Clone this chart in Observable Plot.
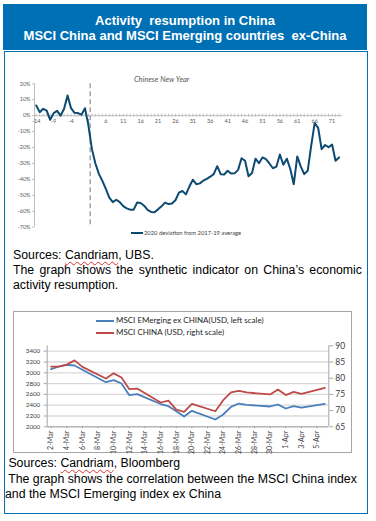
<!DOCTYPE html>
<html><head><meta charset="utf-8">
<script src="https://cdn.jsdelivr.net/npm/d3@7"></script>
<script src="https://cdn.jsdelivr.net/npm/@observablehq/plot@0.6"></script>
<style>
html,body{margin:0;padding:0;background:#fff;}
body{width:376px;height:521px;position:relative;overflow:hidden;font-family:"Liberation Sans",Arial,sans-serif;}
#header{position:absolute;left:3px;top:4px;width:364px;height:46px;background:#0070b5;color:#fff;font-weight:bold;font-size:13px;line-height:15px;text-align:center;box-sizing:border-box;padding-top:9px;}
#box{position:absolute;left:4px;top:51px;width:364px;height:463px;border:1.5px solid #0070b5;box-sizing:border-box;}
#c1{position:absolute;left:0;top:60px;}
#c2{position:absolute;left:0;top:340px;}
#c2frame{position:absolute;left:13px;top:311px;width:339px;height:142px;border:1px solid #a6a6a6;box-sizing:border-box;}
.leg{position:absolute;font-family:Lato,sans-serif;white-space:nowrap;}
.sw{position:absolute;height:2px;}
.cap{position:absolute;font-size:12.3px;color:#000;}
.cap div{white-space:pre;}
.sp{text-decoration:underline wavy #e03030;text-decoration-thickness:1px;text-underline-offset:2px;}
.cap div.just{text-align:justify;text-align-last:justify;white-space:normal;}
</style></head>
<body>
<div id="header">Activity&nbsp; resumption in China<br>MSCI China and MSCI Emerging countries&nbsp; ex-China</div>
<div id="box"></div>
<div id="c1"></div>
<div class="sw" style="left:131px;top:232px;width:12px;background:#0c4a72;"></div>
<div class="leg" style="left:144px;top:229px;font-size:5.8px;line-height:8px;color:#404040;">2020 deviation from 2017-19 average</div>
<div class="cap" style="left:13px;top:248px;width:349px;line-height:15.2px;"><div>Sources: <span class="sp">Candriam</span>, UBS.</div><div class="just">The graph shows the synthetic indicator on China’s economic</div><div>activity resumption.</div></div>
<div id="c2frame"></div>
<div class="sw" style="left:96px;top:320px;width:18px;background:#4a7ebb;"></div>
<div class="leg" style="left:116px;top:315px;font-size:8px;line-height:11px;color:#262626;">MSCI EMerging ex CHINA(USD, left scale)</div>
<div class="sw" style="left:96px;top:332px;width:18px;background:#be4b48;"></div>
<div class="leg" style="left:116px;top:327px;font-size:8px;line-height:11px;color:#262626;">MSCI CHINA (USD, right scale)</div>
<div id="c2"></div>
<div class="cap" style="left:5px;top:456px;line-height:15.5px;"><div> Sources: <span class="sp">Candriam</span>, Bloomberg</div><div> The graph shows the correlation between the MSCI China index</div><div>and the MSCI Emerging index ex China</div></div>
<script>
// ---------- Chart 1: synthetic activity indicator ----------
const days = d3.range(-14, 74);
const deviation = [
  6.4, 2.2, 4.3, 3.1, -2.6, 1.6, 3, 0, 4.3, 12.7,
  4.7, 1.8, 1.6, 0.6, 4.7, -6.2, -21, -30, -36.5, -40.9,
  -45.9, -51.5, -54.3, -52.8, -54.3, -56.8, -58.2, -59, -59, -54.5,
  -54.8, -56.5, -59.2, -60.4, -60.6, -58.8, -56.9, -54.6, -55.5, -55.1,
  -53.1, -48.3, -47.3, -49.4, -44.5, -40.2, -43, -42.5, -40.8, -39.7,
  -38.3, -36.7, -31.7, -36.7, -36.9, -34.6, -36.3, -36.2, -34, -26.7,
  -28.3, -38, -36, -27, -29.8, -26.2, -27.3, -30, -33, -32,
  -24.4, -30.8, -27, -33.5, -43, -25.6, -31.8, -36.7, -34.6, -19,
  -4.7, -7.6, -21, -18.4, -19.8, -18.1, -28.3, -26.2
];
const xTicks1 = [-14, -9, -4, 1, 6, 11, 16, 21, 26, 31, 36, 41, 46, 51, 56, 61, 66, 71];
const yTicks1 = [20, 10, 0, -10, -20, -30, -40, -50, -60, -70];
const cnyMarker = 1.5;
const cnyLabel = "Chinese New Year";
const cnyLabelAt = 30;
const data1 = days.map((d, i) => ({day: d, value: deviation[i]}));
const xDom1 = [-14.5, 74];

const chart1 = Plot.plot({
  width: 376, height: 180,
  marginTop: 23.3, marginBottom: 13.3, marginLeft: 34, marginRight: 34,
  x: {domain: xDom1, axis: null, label: null},
  y: {domain: [-70, 20], label: null},
  style: {fontFamily: "Lato, sans-serif", overflow: "visible", background: "transparent"},
  marks: [
    Plot.axisY(yTicks1, {anchor: "left", tickSize: 2, tickPadding: 2, tickFormat: d => d + "%", fontSize: 5.5, fill: "#595959", stroke: "#bfbfbf", label: null}),
    Plot.ruleX([xDom1[0]], {stroke: "#bfbfbf"}),
    Plot.ruleY([0], {stroke: "#bfbfbf"}),
    Plot.ruleX(days, {x: d => d, y1: -0.9, y2: 0.9, stroke: "#bfbfbf"}),
    Plot.text(xTicks1, {x: d => d, y: 0, dy: 6, text: d => String(d), fontSize: 5.5, fill: "#595959"}),
    Plot.ruleX([cnyMarker], {stroke: "#a6a6a6", strokeWidth: 1.5, strokeDasharray: "5,3"}),
    Plot.text([cnyLabel], {x: cnyLabelAt, frameAnchor: "top", lineAnchor: "middle", dy: -4, textAnchor: "end", fontStyle: "italic", fontSize: 7.5, fill: "#595959", text: d => d}),
    Plot.line(data1, {x: "day", y: "value", stroke: "#0c4a72", strokeWidth: 2})
  ]
});
document.getElementById("c1").append(chart1);

// ---------- Chart 2: MSCI EM ex China vs MSCI China ----------
const dates2 = ["2020-03-02","2020-03-03","2020-03-04","2020-03-05","2020-03-06",
  "2020-03-09","2020-03-10","2020-03-11","2020-03-12","2020-03-13",
  "2020-03-16","2020-03-17","2020-03-18","2020-03-19","2020-03-20",
  "2020-03-23","2020-03-24","2020-03-25","2020-03-26","2020-03-27",
  "2020-03-30","2020-03-31","2020-04-01","2020-04-02","2020-04-03","2020-04-06"];
const emExChina = [3067, 3117, 3148, 3135, 3056, 2826, 2863, 2802, 2585, 2604,
  2422, 2381, 2289, 2191, 2296, 2135, 2228, 2370, 2431, 2407,
  2376, 2413, 2339, 2382, 2357, 2426];
const msciChina = [83.6, 83.6, 84.2, 85.5, 83.5, 79.9, 81.5, 80.2, 76.6, 76.8,
  72.5, 73.1, 70.3, 69.6, 72.1, 69.8, 73.2, 75.6, 76.1, 75.6,
  75.0, 76.5, 74.8, 75.8, 75.2, 77.0];
const leftTicks = [2000, 2200, 2400, 2600, 2800, 3000, 3200, 3400];
const rightTicks = [65, 70, 75, 80, 85, 90];
const dateTicks = ["2020-03-02","2020-03-04","2020-03-06","2020-03-08","2020-03-10","2020-03-12",
  "2020-03-14","2020-03-16","2020-03-18","2020-03-20","2020-03-22","2020-03-24",
  "2020-03-26","2020-03-28","2020-03-30","2020-04-01","2020-04-03","2020-04-05"];
const leftDom = [2000, 3500];
const rightDom = [65, 90];
const toLeft = v => leftDom[0] + (v - rightDom[0]) * (leftDom[1] - leftDom[0]) / (rightDom[1] - rightDom[0]);
const fromLeft = v => rightDom[0] + (v - leftDom[0]) * (rightDom[1] - rightDom[0]) / (leftDom[1] - leftDom[0]);
const parse = d3.utcParse("%Y-%m-%d");
const halfDay = 12 * 3600 * 1000;
const xDom2 = [new Date(+parse(dates2[0]) - halfDay), new Date(+parse(dates2[dates2.length - 1]) + halfDay)];
const em = dates2.map((d, i) => ({date: parse(d), v: emExChina[i]}));
const cn = dates2.map((d, i) => ({date: parse(d), v: toLeft(msciChina[i])}));
const fmt = d3.utcFormat("%-d-%b");

const chart2 = Plot.plot({
  width: 376, height: 113,
  marginTop: 5.3, marginBottom: 26.7, marginLeft: 46.7, marginRight: 47.7,
  x: {type: "utc", domain: xDom2, label: null},
  y: {domain: leftDom, label: null},
  style: {fontFamily: "Lato, sans-serif", overflow: "visible", background: "transparent"},
  marks: [
    Plot.gridY(leftTicks, {stroke: "#d9d9d9", strokeOpacity: 1, strokeWidth: 1.3}),
    Plot.ruleX([xDom2[0]], {stroke: "#a6a6a6"}),
    Plot.ruleX([xDom2[1]], {stroke: "#a6a6a6"}),
    Plot.ruleY([leftDom[0]], {stroke: "#a6a6a6"}),
    Plot.axisY(leftTicks, {anchor: "left", tickSize: 3, tickPadding: 4, fontSize: 6.2, fill: "#404040", stroke: "#a6a6a6", label: null, tickFormat: d => String(d)}),
    Plot.axisY(rightTicks.map(toLeft), {anchor: "right", tickSize: 4, tickPadding: 2.5, fontSize: 8.5, fill: "#404040", stroke: "#a6a6a6", label: null, tickFormat: d => String(Math.round(fromLeft(d)))}),
    Plot.axisX(dateTicks.map(parse), {anchor: "bottom", tickSize: 2, tickPadding: 2, tickRotate: -90, fontSize: 7, fill: "#404040", stroke: "#a6a6a6", label: null, tickFormat: fmt}),
    Plot.line(em, {x: "date", y: "v", stroke: "#4a7ebb", strokeWidth: 1.8}),
    Plot.line(cn, {x: "date", y: "v", stroke: "#be4b48", strokeWidth: 1.8})
  ]
});
document.getElementById("c2").append(chart2);
</script>
</body></html>
